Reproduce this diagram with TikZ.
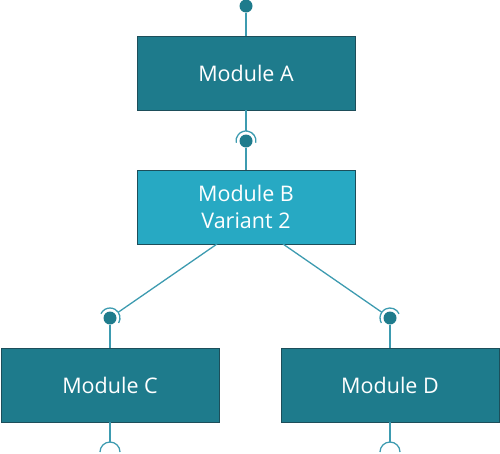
\documentclass[tikz,border=0pt]{standalone}
\usepackage{fontspec}
\setmainfont{Open Sans}
\usepackage{tikz}
\usepackage{xcolor}
\usetikzlibrary{calc}

\begin{document}
\begin{tikzpicture}[x=1pt,y=1pt,
  modbox/.style={draw=modedge,line width=0.9,fill=#1,text=white,
    minimum width=218,minimum height=74,align=center,
    font=\fontsize{21.5}{27}\selectfont},
  wire/.style={draw=wirecol,line width=1.3},
  ball/.style={circle,fill=ballcol,inner sep=0,minimum size=13},
  sock/.style={draw=wirecol,line width=1.3}]
\definecolor{moddark}{HTML}{1E7B8C}
\definecolor{modlight}{HTML}{27A9C3}
\definecolor{modedge}{HTML}{1D4E5A}
\definecolor{wirecol}{HTML}{3D9BB0}
\definecolor{ballcol}{HTML}{1E7B8C}
\useasboundingbox (0,0) rectangle (500,-453);
% modules
\node [modbox=moddark] (modA) at (246,-73) {Module A};
\node [modbox=modlight] (modB) at (246,-207) {Module B\\Variant 2};
\node [modbox=moddark] (modC) at (110,-385) {Module C};
\node [modbox=moddark] (modD) at (390,-385) {Module D};
% balls
\node [ball] (topA) at (246,-6) {};
\node [ball] (ballAB) at (246,-141) {};
\node [ball] (ballC) at (110,-318) {};
\node [ball] (ballD) at (390,-318) {};
% free ends
\coordinate (sockAB) at (246,-131);
\coordinate (outB1) at (217,-244);
\coordinate (outB2) at (283,-244);
\coordinate (sockC) at ($(ballC)+(35:10)$);
\coordinate (sockD) at ($(ballD)+(145:10)$);
\coordinate (endC) at (110,-442);
\coordinate (endD) at (390,-442);
% connectors
\draw [wire] (topA) -- (modA.north);
\draw [wire] (modA.south) -- (sockAB);
\draw [wire] (ballAB) -- (modB.north);
\draw [wire] (outB1) -- (sockC);
\draw [wire] (outB2) -- (sockD);
\draw [wire] (ballC) -- (modC.north);
\draw [wire] (ballD) -- (modD.north);
\draw [wire] (modC.south) -- (endC);
\draw [wire] (modD.south) -- (endD);
% sockets
\draw [sock] (ballAB) ++(-10:10) arc (-10:190:10);
\draw [sock] (ballC) ++(-30:10) arc (-30:155:10);
\draw [sock] (ballD) ++(25:10) arc (25:210:10);
\foreach \e in {endC,endD}
  {\draw [sock] (\e) ++(10,-10) arc (0:180:10);}
\end{tikzpicture}
\end{document}
